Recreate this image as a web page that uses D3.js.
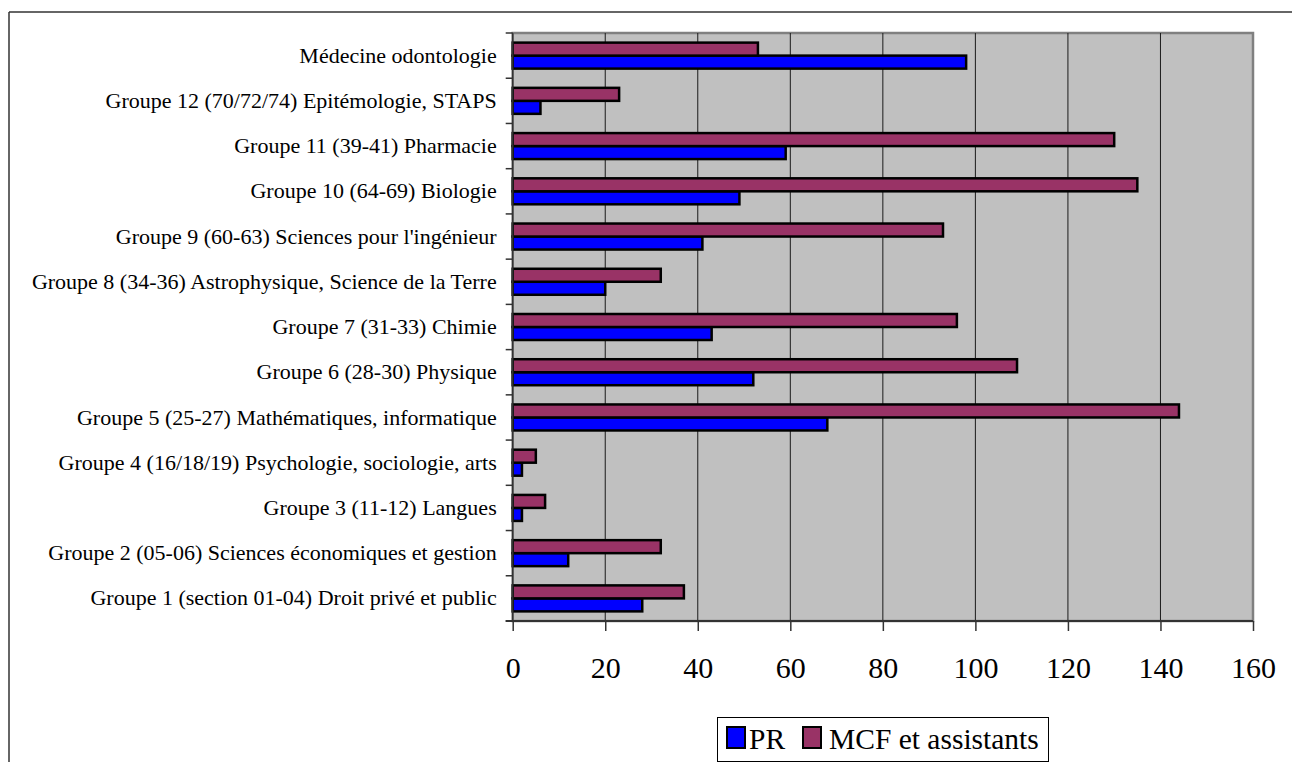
<!DOCTYPE html>
<html>
<head>
<meta charset="utf-8">
<script src="https://cdn.jsdelivr.net/npm/d3@7/dist/d3.min.js"></script>
<style>
  html, body { margin: 0; padding: 0; background: #fff; }
  svg { display: block; }
</style>
</head>
<body>
<svg id="chart" width="1292" height="762"></svg>
<script>
// Enseignants-chercheurs par groupe de sections CNU
const categories = [
  "Groupe 1 (section 01-04) Droit privé et public",
  "Groupe 2 (05-06) Sciences économiques et gestion",
  "Groupe 3 (11-12) Langues",
  "Groupe 4 (16/18/19) Psychologie, sociologie, arts",
  "Groupe 5 (25-27) Mathématiques, informatique",
  "Groupe 6 (28-30) Physique",
  "Groupe 7 (31-33) Chimie",
  "Groupe 8 (34-36) Astrophysique, Science de la Terre",
  "Groupe 9 (60-63) Sciences pour l'ingénieur",
  "Groupe 10 (64-69) Biologie",
  "Groupe 11 (39-41) Pharmacie",
  "Groupe 12 (70/72/74) Epitémologie, STAPS",
  "Médecine odontologie"
];
const seriesNames = ["PR", "MCF et assistants"];
const prValues  = [28, 12, 2, 2, 68, 52, 43, 20, 41, 49, 59, 6, 98];
const mcfValues = [37, 32, 7, 5, 144, 109, 96, 32, 93, 135, 130, 23, 53];
const xTicks = [0, 20, 40, 60, 80, 100, 120, 140, 160];
const seriesColors = ["#0000FF", "#993366"];

const FONT = '"Liberation Serif", "Times New Roman", serif';
const svg = d3.select("#chart");

// page frame (top and left edges)
svg.append("line").attr("x1", 9).attr("y1", 12).attr("x2", 1292).attr("y2", 12)
  .attr("stroke", "#333").attr("stroke-width", 1.5);
svg.append("line").attr("x1", 9).attr("y1", 12).attr("x2", 9).attr("y2", 762)
  .attr("stroke", "#333").attr("stroke-width", 1.5);

const plot = { left: 512.7, right: 1253, top: 33, bottom: 621 };

const x = d3.scaleLinear().domain([0, 160]).range([plot.left, plot.right]);
const y = d3.scaleBand()
  .domain(categories.slice().reverse())
  .range([plot.top, plot.bottom])
  .padding(0);
// MCF above PR inside each band
const ySeries = d3.scaleBand()
  .domain([seriesNames[1], seriesNames[0]])
  .range([0, y.bandwidth()])
  .paddingInner(0)
  .paddingOuter(0.74);

// plot area
svg.append("rect")
  .attr("x", plot.left).attr("y", plot.top)
  .attr("width", plot.right - plot.left).attr("height", plot.bottom - plot.top)
  .attr("fill", "#C0C0C0").attr("stroke", "#808080").attr("stroke-width", 2.5);

// vertical gridlines
svg.append("g").selectAll("line")
  .data(xTicks.slice(1, -1))
  .join("line")
  .attr("x1", d => x(d)).attr("x2", d => x(d))
  .attr("y1", plot.top).attr("y2", plot.bottom)
  .attr("stroke", "#1a1a1a").attr("stroke-width", 1);

// bars
const rows = categories.map((c, i) => ({ cat: c, values: [prValues[i], mcfValues[i]] }));
const groups = svg.append("g").selectAll("g")
  .data(rows)
  .join("g")
  .attr("transform", d => `translate(0,${y(d.cat)})`);

groups.selectAll("rect")
  .data(d => d.values.map((v, k) => ({ name: seriesNames[k], value: v, color: seriesColors[k] })))
  .join("rect")
  .attr("x", x(0))
  .attr("y", d => ySeries(d.name))
  .attr("width", d => x(d.value) - x(0))
  .attr("height", ySeries.bandwidth())
  .attr("fill", d => d.color)
  .attr("stroke", "#000")
  .attr("stroke-width", 2.5);

// left axis: ticks on band boundaries, labels in band centres
const boundaries = y.domain().map(c => y(c)).concat([plot.bottom]);
svg.append("g").selectAll("line")
  .data(boundaries)
  .join("line")
  .attr("x1", plot.left - 7).attr("x2", plot.left)
  .attr("y1", d => d).attr("y2", d => d)
  .attr("stroke", "#333").attr("stroke-width", 1.5);
svg.append("line")
  .attr("x1", plot.left).attr("x2", plot.left)
  .attr("y1", plot.top).attr("y2", plot.bottom)
  .attr("stroke", "#333").attr("stroke-width", 1.5);

const yAxis = svg.append("g")
  .attr("transform", `translate(${plot.left},0)`)
  .call(d3.axisLeft(y).tickSize(0).tickPadding(16));
yAxis.attr("font-family", FONT).attr("font-size", 22);
yAxis.select(".domain").remove();
yAxis.selectAll("text").attr("fill", "#000");

// bottom axis
const xAxis = svg.append("g")
  .attr("transform", `translate(0,${plot.bottom})`)
  .call(d3.axisBottom(x).tickValues(xTicks).tickSize(10).tickSizeOuter(0));
xAxis.attr("font-family", FONT).attr("font-size", 30);
xAxis.select(".domain")
  .attr("d", `M${plot.left - 7},0H${plot.right}`)
  .attr("stroke", "#333").attr("stroke-width", 2);
xAxis.selectAll(".tick line").attr("stroke", "#333").attr("stroke-width", 1.5);
xAxis.selectAll(".tick text")
  .attr("y", 57).attr("dy", 0)
  .attr("fill", "#000");

// legend
const legend = svg.append("g").attr("font-family", FONT).attr("font-size", 29.5);
legend.append("rect")
  .attr("x", 717.5).attr("y", 717.5).attr("width", 331).attr("height", 44)
  .attr("fill", "#fff").attr("stroke", "#000").attr("stroke-width", 1);
const legendItems = [
  { name: seriesNames[0], color: seriesColors[0], sx: 727, tx: 749 },
  { name: seriesNames[1], color: seriesColors[1], sx: 803, tx: 829 }
];
legend.selectAll("rect.sw")
  .data(legendItems)
  .join("rect")
  .attr("class", "sw")
  .attr("x", d => d.sx).attr("y", 727)
  .attr("width", 18).attr("height", 21)
  .attr("fill", d => d.color).attr("stroke", "#000").attr("stroke-width", 2);
legend.selectAll("text")
  .data(legendItems)
  .join("text")
  .attr("x", d => d.tx).attr("y", 749)
  .attr("fill", "#000")
  .text(d => d.name);
</script>
</body>
</html>
